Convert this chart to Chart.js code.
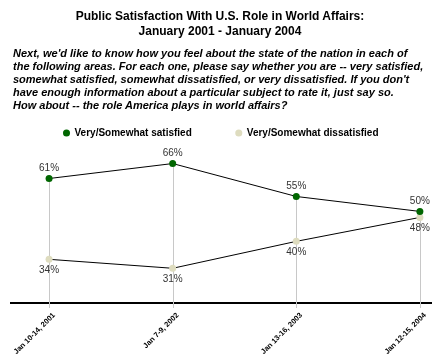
<!DOCTYPE html>
<html>
<head>
<meta charset="utf-8">
<script src="https://cdn.jsdelivr.net/npm/chart.js@4"></script>
<style>
  body { margin: 0; background: #fff; }
  #wrap { position: relative; width: 440px; height: 360px; }
  #mychart { position: absolute; left: 0; top: 0; }
  .title { position: absolute; left: 0; top: 9px; width: 440px; text-align: center;
    font: bold 12px "Liberation Sans", Arial, sans-serif; line-height: 15px; color: #000; }
  .question { position: absolute; left: 13px; top: 47px; width: 427px;
    font: italic bold 11px "Liberation Sans", Arial, sans-serif; line-height: 13px; color: #000; }
</style>
</head>
<body>
<div id="wrap">
  <canvas id="mychart" width="440" height="360"></canvas>
  <div class="title">Public Satisfaction With U.S. Role in World Affairs:<br>January 2001 - January 2004</div>
  <div class="question">Next, we'd like to know how you feel about the state of the nation in each of<br>the following areas. For each one, please say whether you are -- very satisfied,<br>somewhat satisfied, somewhat dissatisfied, or very dissatisfied. If you don't<br>have enough information about a particular subject to rate it, just say so.<br>How about -- the role America plays in world affairs?</div>
</div>
<script>
const labels = ['Jan 10-14, 2001', 'Jan 7-9, 2002', 'Jan 13-16, 2003', 'Jan 12-15, 2004'];
const satisfied = [61, 66, 55, 50];
const dissatisfied = [34, 31, 40, 48];

const ctx = document.getElementById('mychart');

// gray stems from the upper point down to the axis, plus % labels
const stems = {
  id: 'stems',
  beforeDatasetsDraw(chart) {
    const c = chart.ctx, x = chart.scales.x, y = chart.scales.y;
    c.save();
    c.strokeStyle = '#c8c8c8';
    c.lineWidth = 1;
    labels.forEach((l, i) => {
      const px = Math.round(x.getPixelForValue(i)) + 0.5;
      const top = y.getPixelForValue(Math.max(satisfied[i], dissatisfied[i]));
      c.beginPath();
      c.moveTo(px, top);
      c.lineTo(px, chart.chartArea.bottom + 5);
      c.stroke();
    });
    c.restore();
  },
  afterDatasetsDraw(chart) {
    const c = chart.ctx, x = chart.scales.x, y = chart.scales.y;
    c.save();
    c.font = '10px "Liberation Sans", Arial, sans-serif';
    c.fillStyle = '#333';
    c.textAlign = 'center';
    c.textBaseline = 'middle';
    labels.forEach((l, i) => {
      const px = x.getPixelForValue(i);
      c.fillText(satisfied[i] + '%', px, y.getPixelForValue(satisfied[i]) - 10);
      c.fillText(dissatisfied[i] + '%', px, y.getPixelForValue(dissatisfied[i]) + 10.5);
    });
    c.restore();
  }
};

new Chart(ctx, {
  type: 'line',
  data: {
    datasets: [{
      label: 'Very/Somewhat satisfied',
      data: satisfied.map((v, i) => ({x: i, y: v})),
      borderColor: '#000',
      borderWidth: 1,
      backgroundColor: '#006600',
      pointBackgroundColor: '#006600',
      pointBorderWidth: 0,
      pointRadius: 3.5,
      clip: false,
      fill: false
    }, {
      label: 'Very/Somewhat dissatisfied',
      data: dissatisfied.map((v, i) => ({x: i, y: v})),
      borderColor: '#000',
      borderWidth: 1,
      backgroundColor: '#dedcbf',
      pointBackgroundColor: '#dedcbf',
      pointBorderWidth: 0,
      pointRadius: 3.5,
      clip: false,
      fill: false
    }]
  },
  options: {
    responsive: false,
    animation: false,
    layout: { padding: { top: 84, left: 11, right: 9, bottom: 0 } },
    plugins: {
      legend: {
        position: 'top',
        labels: {
          usePointStyle: true,
          pointStyle: 'circle',
          boxWidth: 6,
          boxHeight: 5,
          padding: 44,
          color: '#000',
          font: { family: '"Liberation Sans", Arial, sans-serif', size: 10, weight: 'bold' }
        }
      },
      tooltip: { enabled: false }
    },
    scales: {
      x: {
        type: 'linear',
        min: -0.308,
        max: 3.09,
        afterBuildTicks: (s) => { s.ticks = labels.map((l, i) => ({value: i})); },
        afterFit: (s) => { s.height = 57; },
        grid: { display: false },
        border: { display: true, color: '#000', width: 2 },
        ticks: {
          autoSkip: false,
          minRotation: 45,
          maxRotation: 45,
          padding: 0,
          labelOffset: 5,
          color: '#000',
          font: { family: '"Liberation Sans", Arial, sans-serif', size: 7.5, weight: 'bold' },
          callback: (v) => labels[v]
        }
      },
      y: {
        display: false,
        min: 19.4,
        max: 71.2
      }
    }
  },
  plugins: [stems]
});
</script>
</body>
</html>
